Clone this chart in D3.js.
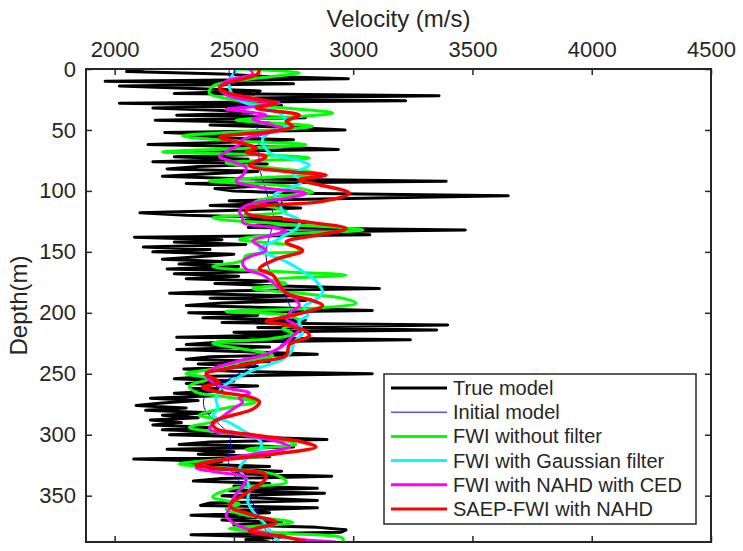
<!DOCTYPE html>
<html>
<head>
<meta charset="utf-8">
<script src="https://cdn.jsdelivr.net/npm/d3@7"></script>
<style>
  body { margin: 0; background: #fff; }
  text { font-family: "Liberation Sans", Arial, Helvetica, sans-serif; fill: #262626; }
</style>
</head>
<body>
<svg id="chart" width="743" height="551"></svg>
<script>
// velocity (m/s) along depth; true model sampled every 2 m from 0 m
const trueStep = 2;
const trueModel = [
  2120, 2050, 2450, 2620, 2980, 1960, 2750, 2020, 2330, 2610,
  2250, 3360, 2500, 3220, 2020, 2700, 2160, 2450, 2580, 2260,
  2800, 2170, 2650, 2400, 2750, 2966, 2210, 2450, 2320, 2750,
  2480, 2140, 2680, 2938, 2290, 2600, 2250, 2560, 2160, 2640,
  2350, 2220, 2600, 2400, 2200, 2520, 3390, 2300, 2600, 2420,
  2500, 2760, 3650, 3030, 2480, 2700, 2400, 2780, 2480, 2106,
  2300, 2700, 2550, 2800, 2600,
  2560, 3470, 2700, 3070, 2083, 2450, 2250, 2550, 2120, 2400,
  2160, 2500, 2350, 2200, 2450, 2270, 2520, 2220, 2600, 2250,
  2520, 2300, 2650, 2420, 2700, 3110, 2500, 2230, 2750, 2400,
  2800, 2450, 2300, 2700, 3080, 2310, 2600, 2370, 2800, 2450,
  3396, 2600, 3350, 2500, 2750, 2260, 3240, 2450, 2300, 2650,
  2260, 2550, 2850, 2400, 2300, 2650, 2350, 2600, 2290, 2500,
  3080, 2400, 2250, 2500, 2300, 2600, 2320, 2450, 2250, 2420,
  2150, 2350, 2200, 2090, 2300, 2130, 2400, 2200, 2350, 2150,
  2280, 2160, 2400, 2200, 2500, 2230, 2600, 2890, 2400, 2270,
  2750, 2220, 2500, 2350, 2650, 2080, 2450, 2310, 2650, 2400,
  2700, 2500, 2910, 2450, 2330, 2650, 2500, 2850, 2480, 2880,
  2450, 2600, 2850, 2400, 2360, 2850, 2500, 2650, 2320, 2600,
  2450, 2700, 2500, 2850, 2970, 2950, 2320, 2700, 2550, 2650
];

// [depth, velocity]
const initialModel = [
  [0, 2480], [10, 2482], [20, 2490], [30, 2530], [40, 2570], [50, 2600],
  [60, 2605], [70, 2605], [80, 2605], [90, 2620], [100, 2635], [110, 2650],
  [120, 2665], [130, 2660], [140, 2645], [150, 2635], [160, 2640], [170, 2665],
  [180, 2700], [190, 2725], [200, 2745], [210, 2745], [220, 2720], [230, 2680],
  [240, 2610], [250, 2520], [260, 2430], [270, 2375], [280, 2380], [290, 2430],
  [300, 2480], [310, 2485], [320, 2475], [330, 2490], [340, 2530], [350, 2560],
  [360, 2590], [370, 2610], [380, 2640], [388, 2670]
];

const fwiNoFilter = [
  [0, 2509], [3, 2774], [8, 2579], [14, 2411], [20, 2397], [24, 2467], [28, 2579],
  [31, 2663], [36, 2914], [39, 2774], [42, 2509], [47, 2830], [50, 2663], [55, 2285],
  [59, 2509], [62, 2802], [65, 2551], [68, 2201], [70, 2579], [73, 2816], [77, 2467],
  [81, 2649], [86, 2858], [90, 2537], [92, 2397], [96, 2719], [101, 2830], [105, 2663],
  [110, 2579], [114, 2677], [117, 2719], [122, 2411], [127, 2691], [132, 3040], [136, 2663],
  [140, 2523], [145, 2747], [149, 2774], [153, 2551], [157, 2537], [162, 2411], [166, 2663],
  [169, 2970], [173, 2663], [176, 2719], [180, 2579], [184, 2774], [188, 2956], [192, 3012],
  [196, 2858], [199, 2467], [203, 2747], [208, 2774], [213, 2705], [217, 2747], [221, 2663],
  [225, 2411], [231, 2579], [235, 2663], [240, 2537], [246, 2411], [250, 2299], [254, 2397],
  [260, 2313], [265, 2341], [269, 2467], [273, 2593], [277, 2495], [284, 2355], [288, 2439],
  [294, 2313], [298, 2439], [303, 2663], [308, 2760], [312, 2551], [316, 2663], [321, 2411],
  [324, 2271], [328, 2495], [333, 2677], [339, 2719], [344, 2495], [351, 2411], [357, 2523],
  [361, 2467], [366, 2551], [372, 2747], [377, 2481], [381, 2719], [385, 2956], [388, 2956]
];

const fwiGaussian = [
  [0, 2516], [10, 2481], [19, 2488], [27, 2537], [31, 2607], [35, 2684], [42, 2719],
  [46, 2733], [51, 2663], [57, 2621], [64, 2628], [70, 2663], [75, 2774], [79, 2816],
  [86, 2747], [92, 2788], [99, 2719], [103, 2670], [109, 2691], [117, 2705], [124, 2774],
  [130, 2767], [136, 2719], [142, 2663], [147, 2607], [151, 2635], [158, 2719], [166, 2788],
  [174, 2844], [183, 2872], [189, 2844], [195, 2795], [202, 2809], [207, 2774], [216, 2788],
  [224, 2753], [232, 2740], [238, 2705], [246, 2593], [251, 2537], [257, 2481], [262, 2446],
  [270, 2425], [279, 2432], [284, 2411], [290, 2481], [298, 2551], [306, 2614], [313, 2607],
  [320, 2551], [328, 2523], [336, 2551], [344, 2565], [355, 2558], [366, 2593], [374, 2635],
  [382, 2663], [388, 2691]
];

const fwiNahdCed = [
  [0, 2565], [4, 2579], [10, 2467], [16, 2439], [21, 2467], [25, 2537], [28, 2691],
  [31, 2579], [33, 2467], [35, 2551], [38, 2635], [41, 2579], [46, 2663], [49, 2705],
  [54, 2607], [58, 2537], [62, 2523], [68, 2467], [72, 2439], [76, 2495], [81, 2551],
  [87, 2537], [92, 2509], [97, 2607], [102, 2802], [106, 2719], [112, 2551], [117, 2523],
  [122, 2537], [126, 2537], [130, 2663], [133, 2719], [136, 2663], [141, 2579], [145, 2607],
  [149, 2635], [153, 2579], [158, 2537], [164, 2551], [169, 2621], [175, 2663], [180, 2691],
  [187, 2747], [194, 2774], [200, 2733], [205, 2719], [210, 2760], [214, 2774], [219, 2747],
  [227, 2705], [234, 2635], [240, 2509], [246, 2411], [251, 2383], [260, 2439], [266, 2565],
  [270, 2523], [273, 2537], [279, 2495], [287, 2439], [295, 2397], [300, 2537], [306, 2691],
  [310, 2733], [316, 2579], [322, 2411], [327, 2341], [331, 2439], [335, 2551], [342, 2537],
  [347, 2516], [353, 2495], [361, 2481], [366, 2467], [372, 2495], [377, 2551], [382, 2663],
  [386, 2788], [388, 2928]
];

const saepNahd = [
  [0, 2607], [4, 2600], [12, 2467], [16, 2439], [20, 2481], [24, 2579], [28, 2677],
  [32, 2593], [38, 2774], [43, 2719], [47, 2747], [51, 2663], [56, 2439], [61, 2537],
  [65, 2593], [68, 2551], [72, 2635], [79, 2565], [84, 2719], [87, 2886], [91, 2774],
  [95, 2858], [102, 2984], [109, 2858], [114, 2565], [118, 2551], [124, 2747], [131, 2970],
  [136, 2858], [142, 2719], [149, 2788], [156, 2677], [164, 2607], [169, 2663], [177, 2691],
  [184, 2719], [190, 2830], [194, 2872], [202, 2747], [207, 2635], [210, 2719], [215, 2802],
  [219, 2816], [226, 2733], [235, 2719], [240, 2607], [246, 2467], [250, 2383], [257, 2439],
  [261, 2369], [265, 2439], [269, 2565], [273, 2607], [279, 2579], [284, 2495], [290, 2411],
  [295, 2425], [300, 2579], [306, 2788], [310, 2844], [316, 2663], [321, 2439], [325, 2341],
  [329, 2509], [333, 2635], [339, 2621], [344, 2579], [350, 2537], [358, 2481], [366, 2579],
  [372, 2677], [379, 2565], [384, 2719], [388, 2802]
];

const xTicks = [2000, 2500, 3000, 3500, 4000, 4500];
const yTicks = [0, 50, 100, 150, 200, 250, 300, 350];
const legendNames = ["True model", "Initial model", "FWI without filter",
  "FWI with Gaussian filter", "FWI with NAHD with CED", "SAEP-FWI with NAHD"];

const svg = d3.select("#chart");
const plotLeft = 86, plotRight = 711, plotTop = 69, plotBottom = 542;

const x = d3.scaleLinear().domain([1880, 4500]).range([plotLeft, plotRight]);
const y = d3.scaleLinear().domain([0, 388]).range([plotTop, plotBottom]);

svg.append("clipPath").attr("id", "plotclip")
  .append("rect")
  .attr("x", plotLeft).attr("y", plotTop)
  .attr("width", plotRight - plotLeft).attr("height", plotBottom - plotTop);

const plot = svg.append("g").attr("clip-path", "url(#plotclip)");

const trueLine = d3.line()
  .x(function(v) { return x(v); })
  .y(function(v, i) { return y(i * trueStep); });

const smoothLine = d3.line()
  .x(function(p) { return x(p[1]); })
  .y(function(p) { return y(p[0]); })
  .curve(d3.curveCatmullRom.alpha(0.5));

plot.append("path")
  .attr("d", trueLine(trueModel))
  .attr("fill", "none").attr("stroke", "#000").attr("stroke-width", 3)
  .attr("stroke-linejoin", "round");

const series = [
  { data: initialModel, color: "#0000ff", width: 1 },
  { data: fwiNoFilter, color: "#00ff00", width: 3 },
  { data: fwiGaussian, color: "#00ffff", width: 3 },
  { data: fwiNahdCed, color: "#ff00ff", width: 3 },
  { data: saepNahd, color: "#ff0000", width: 3.5 }
];

series.forEach(function(s) {
  plot.append("path")
    .attr("d", smoothLine(s.data))
    .attr("fill", "none")
    .attr("stroke", s.color)
    .attr("stroke-width", s.width)
    .attr("stroke-linejoin", "round");
});

// axes, ticks pointing inward like matlab
const fmt = d3.format("d");
svg.append("g").attr("transform", `translate(0,${plotTop})`)
  .call(d3.axisTop(x).tickValues(xTicks).tickFormat(fmt)
    .tickSizeInner(-6).tickSizeOuter(0).tickPadding(12));
svg.append("g").attr("transform", `translate(0,${plotBottom})`)
  .call(d3.axisBottom(x).tickValues(xTicks).tickSizeInner(-6).tickSizeOuter(0).tickFormat(""));
svg.append("g").attr("transform", `translate(${plotLeft},0)`)
  .call(d3.axisLeft(y).tickValues(yTicks).tickFormat(fmt)
    .tickSizeInner(-6).tickSizeOuter(0).tickPadding(10));
svg.append("g").attr("transform", `translate(${plotRight},0)`)
  .call(d3.axisRight(y).tickValues(yTicks).tickSizeInner(-6).tickSizeOuter(0).tickFormat(""));

svg.selectAll(".domain").remove();
svg.selectAll(".tick line").attr("stroke", "#262626").attr("stroke-width", 1.5);
svg.selectAll(".tick text").attr("font-size", 22).attr("fill", "#262626")
  .style("font-family", "'Liberation Sans', Arial, sans-serif");

svg.append("rect")
  .attr("x", plotLeft).attr("y", plotTop)
  .attr("width", plotRight - plotLeft).attr("height", plotBottom - plotTop)
  .attr("fill", "none").attr("stroke", "#262626").attr("stroke-width", 2);

svg.append("text")
  .attr("x", (plotLeft + plotRight) / 2).attr("y", 27)
  .attr("text-anchor", "middle").attr("font-size", 24)
  .text("Velocity (m/s)");

svg.append("text")
  .attr("transform", `translate(27,${(plotTop + plotBottom) / 2}) rotate(-90)`)
  .attr("text-anchor", "middle").attr("font-size", 24)
  .text("Depth(m)");

// legend
const legendColors = ["#000000", "#0000ff", "#00ff00", "#00ffff", "#ff00ff", "#ff0000"];
const legendWidths = [3, 1, 3, 3, 3, 3];
const legend = svg.append("g");
legend.append("rect")
  .attr("x", 384).attr("y", 374).attr("width", 312).attr("height", 150)
  .attr("fill", "#fff").attr("stroke", "#262626").attr("stroke-width", 1.5);

legendNames.forEach(function(name, i) {
  const ly = 388 + i * 24.2;
  legend.append("line")
    .attr("x1", 391).attr("x2", 447).attr("y1", ly).attr("y2", ly)
    .attr("stroke", legendColors[i]).attr("stroke-width", legendWidths[i]);
  legend.append("text")
    .attr("x", 453).attr("y", ly).attr("dy", "0.35em")
    .attr("font-size", 20).attr("fill", "#000")
    .text(name);
});
</script>
</body>
</html>
